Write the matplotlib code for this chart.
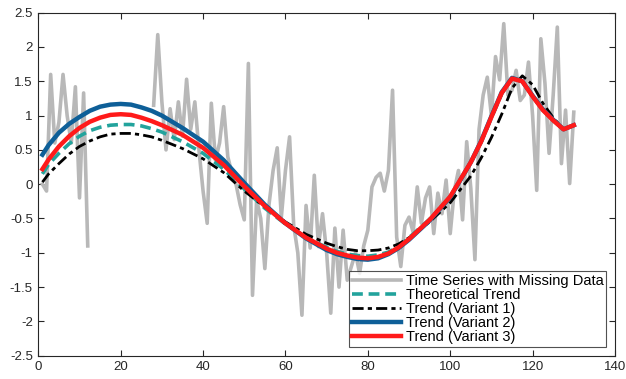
import numpy as np
import matplotlib
matplotlib.use("Agg")
import matplotlib.pyplot as plt

plt.rcParams['font.family'] = ['Liberation Sans', 'DejaVu Sans']

# Time series with missing data (x = 1..130), NaN = missing
ts_x = list(range(1, 131))
ts_y = [0.0, -0.1, 1.6, 0.6, 0.9, 1.6, 1.0, 0.6, 1.42, -0.2, 1.33, -0.9,
        np.nan, np.nan, np.nan, np.nan, np.nan, np.nan, np.nan, np.nan, np.nan, np.nan,
        np.nan, np.nan, np.nan, np.nan, np.nan,
        1.15, 2.18, 1.2, 0.5, 1.1, 0.65, 1.2, 0.7, 1.53, 0.8, 1.2, 0.5, -0.1,
        -0.57, 1.18, 0.35, 0.6, 1.13, 0.4, 0.16, 0.0, -0.3, -0.52,
        1.76, -1.62, -0.23, -0.5, -1.23, -0.3, 0.2, 0.53, -0.48, 0.2,
        0.69, -0.6, -1.0, -1.91, -0.31, -0.93, 0.13, -0.91, -0.43, -1.0,
        -1.88, -0.64, -1.5, -0.67, -1.4, -1.2, -1.0, -1.3, -0.9, -0.67,
        -0.04, 0.1, 0.16, -0.1, 0.2, 1.37, -0.77, -1.2, -0.6, -0.48,
        -0.7, -0.04, -0.57, -0.2, -0.04, -0.72, -0.13, -0.43, 0.06, -0.72,
        -0.09, 0.2, -0.52, 0.62, -0.06, -1.1, 0.8, 1.3, 1.56, 1.0,
        1.86, 1.52, 2.34, 1.3, 1.37, 1.66, 1.22, 1.3, 1.78, 1.0,
        -0.09, 2.12, 1.47, 0.45, 1.3, 2.29, 0.3, 1.08, 0.01, 1.05]

# Trend curves sampled at these x positions
tr_x = [1, 2.5, 5, 7.5, 10, 12.5, 15, 17.5, 20, 22.5, 25, 27.5, 30, 35, 40, 45, 50,
        55, 60, 65, 70, 72.5, 75, 77.5, 80, 82.5, 85, 87.5, 90, 95, 100, 105,
        107.5, 110, 112.5, 115, 117.5, 120, 122.5, 125, 127.5, 130]
theory = [0.15, 0.29, 0.45, 0.59, 0.70, 0.78, 0.83, 0.86, 0.87, 0.87, 0.85, 0.81,
          0.76, 0.62, 0.45, 0.22, -0.07, -0.35, -0.58, -0.78, -0.92, -0.98, -1.02,
          -1.04, -1.05, -1.03, -0.99, -0.90, -0.78, -0.51, -0.19, 0.31, 0.61, 0.97,
          1.32, 1.54, 1.50, 1.28, 1.08, 0.93, 0.80, 0.86]
variant1 = [0.03, 0.15, 0.30, 0.44, 0.55, 0.63, 0.69, 0.73, 0.74, 0.74, 0.72, 0.69,
            0.64, 0.52, 0.37, 0.17, -0.10, -0.33, -0.55, -0.73, -0.86, -0.91, -0.95,
            -0.97, -0.97, -0.96, -0.93, -0.87, -0.78, -0.55, -0.27, 0.12, 0.38, 0.68,
            1.02, 1.40, 1.58, 1.45, 1.18, 0.97, 0.80, 0.86]
variant2 = [0.43, 0.57, 0.75, 0.88, 0.98, 1.07, 1.13, 1.16, 1.17, 1.16, 1.12, 1.07,
            1.00, 0.82, 0.62, 0.35, 0.02, -0.30, -0.57, -0.79, -0.96, -1.02, -1.06,
            -1.09, -1.10, -1.08, -1.02, -0.93, -0.81, -0.53, -0.19, 0.32, 0.63, 0.99,
            1.34, 1.55, 1.50, 1.29, 1.09, 0.94, 0.80, 0.86]
variant3 = [0.22, 0.36, 0.55, 0.70, 0.82, 0.91, 0.97, 1.01, 1.02, 1.01, 0.97, 0.92,
            0.86, 0.72, 0.53, 0.28, -0.03, -0.32, -0.57, -0.78, -0.94, -1.00, -1.04,
            -1.07, -1.08, -1.06, -1.01, -0.92, -0.80, -0.52, -0.18, 0.32, 0.62, 0.98,
            1.33, 1.54, 1.50, 1.28, 1.08, 0.93, 0.80, 0.86]

x_ticks = [0, 20, 40, 60, 80, 100, 120, 140]
y_ticks = [-2.5, -2, -1.5, -1, -0.5, 0, 0.5, 1, 1.5, 2, 2.5]
y_labels = ['-2.5', '-2', '-1.5', '-1', '-0.5', '0', '0.5', '1', '1.5', '2', '2.5']

fig = plt.figure(figsize=(6.26, 3.79), dpi=100)
ax = fig.add_axes([0.0612, 0.0615, 0.9212, 0.905])

ax.plot(ts_x, ts_y, color='#b8b8b8', lw=2.6, label='Time Series with Missing Data')
ax.plot(tr_x, theory, color='#22a39c', lw=2.6, ls=(0, (3, 1.6)), label='Theoretical Trend')
ax.plot(tr_x, variant1, color='black', lw=2.0, ls=(0, (4, 1.5, 1.5, 1.5)), label='Trend (Variant 1)')
ax.plot(tr_x, variant2, color='#0e5f98', lw=3.2, label='Trend (Variant 2)')
ax.plot(tr_x, variant3, color='#ff1a1a', lw=3.2, label='Trend (Variant 3)')

ax.set_xlim(0, 140)
ax.set_ylim(-2.5, 2.5)
ax.set_xticks(x_ticks)
ax.set_yticks(y_ticks)
ax.set_yticklabels(y_labels)
ax.tick_params(direction='in', length=4, width=0.8, top=True, right=True,
               labelsize=9.5, colors='#262626', pad=4)
for s in ax.spines.values():
    s.set_color('#262626')
    s.set_linewidth(0.8)

leg = ax.legend(loc='lower right', fontsize=10.5, handlelength=3.4, handletextpad=0.3,
                labelspacing=0.0, borderpad=0.2, borderaxespad=0.6,
                frameon=True, fancybox=False, edgecolor='#262626')
leg.get_frame().set_linewidth(0.8)

fig.savefig('out.png', dpi=100)
